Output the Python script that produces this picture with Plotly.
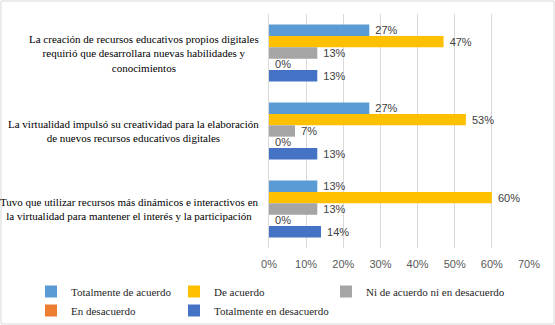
import plotly.graph_objects as go

categories = [
    "La creación de recursos educativos propios digitales<br>requirió que desarrollara nuevas habilidades y<br>conocimientos",
    "La virtualidad impulsó su creatividad para la elaboración<br>de nuevos recursos educativos digitales",
    "Tuvo que utilizar recursos más dinámicos e interactivos en<br>la virtualidad para mantener el interés y la participación",
]
series_names = [
    "Totalmente de acuerdo",
    "De acuerdo",
    "Ni de acuerdo ni en desacuerdo",
    "En desacuerdo",
    "Totalmente en desacuerdo",
]
totalmente_de_acuerdo = [0.27, 0.27, 0.13]
de_acuerdo = [0.47, 0.53, 0.60]
ni_de_acuerdo = [0.13, 0.07, 0.13]
en_desacuerdo = [0.0, 0.0, 0.0]
totalmente_en_desacuerdo = [0.13, 0.13, 0.14]
series_values = [totalmente_de_acuerdo, de_acuerdo, ni_de_acuerdo, en_desacuerdo, totalmente_en_desacuerdo]
colors = ["#5B9BD5", "#FFC000", "#A5A5A5", "#ED7D31", "#4472C4"]
tick_vals = [0, 0.1, 0.2, 0.3, 0.4, 0.5, 0.6, 0.7]
legend_columns = ["legend", "legend2", "legend3", "legend", "legend2"]

SERIF = "Liberation Serif"
SANS = "Liberation Sans"

W, H = 555, 325
L, R, T, B = 269, 26, 14, 77
pw = W - L - R
ph = H - T - B

fig = go.Figure()
for name, vals, c, lg in zip(series_names, series_values, colors, legend_columns):
    fig.add_trace(go.Bar(
        y=list(range(len(categories))), x=vals, name=name, orientation="h",
        marker=dict(color=c, line=dict(width=0)),
        texttemplate=" %{x:.0%}", textposition="outside", constraintext="none",
        textfont=dict(family=SANS, size=11, color="#404040"),
        cliponaxis=False, legend=lg,
    ))

for i, cat in enumerate(categories):
    fig.add_annotation(
        x=0, xref="paper", y=i, yref="y", text=cat, showarrow=False,
        xanchor="right", yanchor="middle", align="center", xshift=-8,
        font=dict(family=SERIF, size=11, color="#000000"),
    )

fig.add_shape(
    type="rect", xref="paper", yref="paper",
    x0=-(L - 1) / pw, x1=1 + (R - 1) / pw,
    y0=-(B - 1) / ph, y1=1 + (T - 1) / ph,
    line=dict(color="#D9D9D9", width=1), fillcolor="rgba(0,0,0,0)", layer="below",
)

def legend_at(px_left):
    return dict(
        orientation="v", x=(px_left - L) / pw, xanchor="left",
        y=-(292 - (H - B) - 15) / ph, yanchor="top",
        font=dict(family=SERIF, size=11, color="#262626"),
        traceorder="normal", tracegroupgap=0, bgcolor="rgba(0,0,0,0)",
    )

fig.update_layout(
    width=W, height=H,
    margin=dict(l=L, r=R, t=T, b=B, autoexpand=False),
    paper_bgcolor="white", plot_bgcolor="white",
    barmode="group", bargap=0.27, bargroupgap=0,
    xaxis=dict(
        range=[0, 0.7], tickvals=tick_vals, tickformat=".0%",
        showgrid=True, gridcolor="#D9D9D9", gridwidth=1,
        zeroline=False, showline=False, ticks="", ticklabelstandoff=8,
        tickfont=dict(family=SANS, size=11, color="#595959"),
    ),
    yaxis=dict(
        range=[2.5, -0.5], showticklabels=False, showgrid=False,
        zeroline=False, showline=True, linecolor="#D9D9D9", ticks="",
    ),
    legend=legend_at(31),
    legend2=legend_at(174),
    legend3=legend_at(326),
    showlegend=True,
)

fig.write_html("out.html")
